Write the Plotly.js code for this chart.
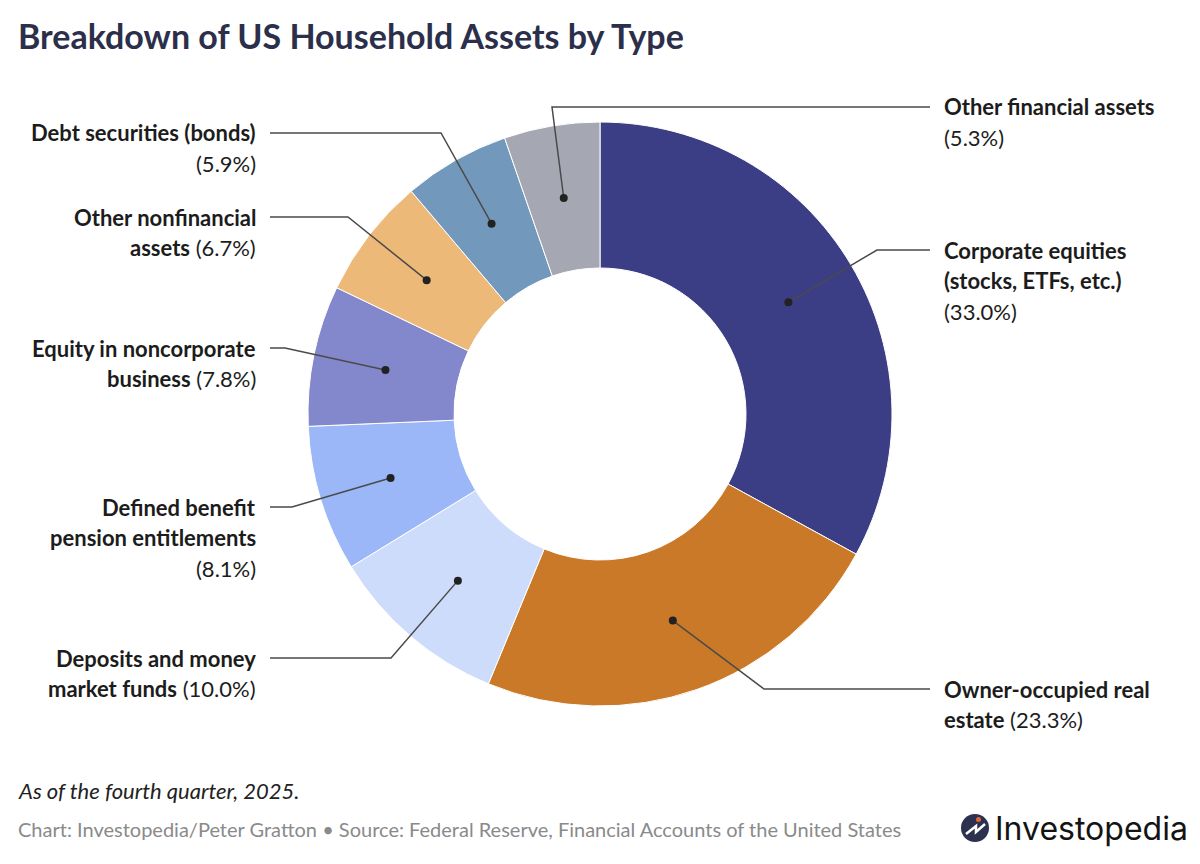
<!DOCTYPE html>
<html>
<head>
<meta charset="utf-8">
<script src="https://cdn.plot.ly/plotly-3.0.1.min.js"></script>
<style>html,body{margin:0;padding:0;background:#fff;}#chart{width:1200px;height:864px;}</style>
</head>
<body>
<div id="chart"></div>
<script>
// ---- data ----
const categories = [
  "Corporate equities (stocks, ETFs, etc.)",
  "Owner-occupied real estate",
  "Deposits and money market funds",
  "Defined benefit pension entitlements",
  "Equity in noncorporate business",
  "Other nonfinancial assets",
  "Debt securities (bonds)",
  "Other financial assets"
];
const values = [33.0, 23.3, 10.0, 8.1, 7.8, 6.7, 5.9, 5.3];
const sliceColors = ["#3b3e85", "#c97927", "#cddcfa", "#9bb7f7", "#8388cd", "#edb978", "#7298bb", "#a5a7b2"];
// label lines: bold lines, and the last line text prefix (bold) before the percentage
const labelBold = [
  ["Corporate equities", "(stocks, ETFs, etc.)"],
  ["Owner-occupied real"],
  ["Deposits and money"],
  ["Defined benefit", "pension entitlements"],
  ["Equity in noncorporate"],
  ["Other nonfinancial"],
  ["Debt securities (bonds)"],
  ["Other financial assets"]
];
const labelTail = ["", "estate", "market funds", "", "business", "assets", "", ""];

// ---- layout constants (pixels) ----
const W = 1200, H = 864;
const cx = 600, cy = 414, rOut = 292, hole = 0.5;
const rMid = rOut * (1 + hole) / 2;
const side = ["r", "r", "l", "l", "l", "l", "l", "r"];
const elbow = [[877, 250], [764, 689], [391, 658], [292, 507], [285, 348], [348, 217], [441, 133], [552, 107]];
const lineEndR = 930, lineEndL = 270, textR = 942, textL = 258, lineGap = 30.5;

const px = x => x / W, py = y => 1 - y / H;

const total = values.reduce((a, b) => a + b, 0);
const shapes = [], annotations = [];
const labelFont = "Lato, 'Noto Sans', sans-serif";
let cum = 0;
values.forEach((v, i) => {
  const th = (cum + v / 2) / total * 2 * Math.PI;
  cum += v;
  const dx = cx + rMid * Math.sin(th), dy = cy - rMid * Math.cos(th);
  const [ex, ey] = elbow[i];
  const endX = side[i] === "r" ? lineEndR : lineEndL;
  shapes.push({type: "path", xref: "paper", yref: "paper",
    path: `M ${px(dx)} ${py(dy)} L ${px(ex)} ${py(ey)} L ${px(endX)} ${py(ey)}`,
    line: {color: "#4a4a4a", width: 1.5}});
  shapes.push({type: "circle", xref: "paper", yref: "paper",
    x0: px(dx - 4), x1: px(dx + 4), y0: py(dy + 4), y1: py(dy - 4),
    fillcolor: "#222", line: {width: 0}});
  const pct = `(${v.toFixed(1)}%)`;
  const lines = labelBold[i].map(t => `<b>${t}</b>`);
  if (labelTail[i]) lines.push(`<b>${labelTail[i]}</b> ${pct}`); else lines.push(pct);
  lines.forEach((t, k) => {
    annotations.push({text: t, xref: "paper", yref: "paper", showarrow: false,
      x: px(side[i] === "r" ? textR : textL), y: py(ey + k * lineGap),
      xanchor: side[i] === "r" ? "left" : "right", yanchor: "middle",
      font: {family: labelFont, size: 22, color: "#1c1c1c"}});
  });
});

// title & footer
annotations.push({text: "<b>Breakdown of US Household Assets by Type</b>", xref: "paper", yref: "paper",
  x: px(16), y: py(36), xanchor: "left", yanchor: "middle", showarrow: false,
  font: {family: labelFont, size: 34, color: "#2b2f4a"}});
annotations.push({text: "<i>As of the fourth quarter, 2025.</i>", xref: "paper", yref: "paper",
  x: px(16), y: py(790), xanchor: "left", yanchor: "middle", showarrow: false,
  font: {family: labelFont, size: 22, color: "#222"}});
annotations.push({text: "Chart: Investopedia/Peter Gratton • Source: Federal Reserve, Financial Accounts of the United States", xref: "paper", yref: "paper",
  x: px(16), y: py(829), xanchor: "left", yanchor: "middle", showarrow: false,
  font: {family: labelFont, size: 20, color: "#8a8a8a"}});
// logo
shapes.push({type: "circle", xref: "paper", yref: "paper", x0: px(961), x1: px(989), y0: py(842), y1: py(814),
  fillcolor: "#2c3150", line: {width: 0}});
shapes.push({type: "path", xref: "paper", yref: "paper",
  path: `M ${px(966)} ${py(834)} L ${px(976)} ${py(826)} L ${px(976)} ${py(832)} L ${px(985)} ${py(824)}`,
  line: {color: "#fff", width: 2.5}});
shapes.push({type: "circle", xref: "paper", yref: "paper", x0: px(976), x1: px(981), y0: py(822), y1: py(817),
  fillcolor: "#e0673a", line: {width: 0}});
annotations.push({text: "Investopedia", xref: "paper", yref: "paper",
  x: px(993), y: py(828), xanchor: "left", yanchor: "middle", showarrow: false,
  font: {family: "Inter, Lato, sans-serif", size: 32, color: "#141414"}});

const trace = {
  type: "pie", labels: categories, values: values, hole: hole, sort: false,
  direction: "clockwise", rotation: 0, textinfo: "none", hoverinfo: "label+percent",
  marker: {colors: sliceColors, line: {color: "#ffffff", width: 1}},
  domain: {x: [px(cx - rOut), px(cx + rOut)], y: [py(cy + rOut), py(cy - rOut)]},
  showlegend: false
};

Plotly.newPlot("chart", [trace], {
  width: W, height: H, margin: {l: 0, r: 0, t: 0, b: 0},
  paper_bgcolor: "#fff", plot_bgcolor: "#fff", showlegend: false,
  shapes: shapes, annotations: annotations
}, {displayModeBar: false, staticPlot: true});
</script>
</body>
</html>
